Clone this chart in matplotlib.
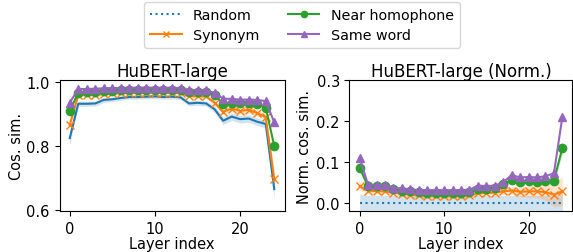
import numpy as np
import matplotlib
matplotlib.use("Agg")
import matplotlib.pyplot as plt

layers = np.arange(25)

# raw cosine similarity (left panel)
rand_raw = [0.825, 0.932, 0.932, 0.933, 0.944, 0.946, 0.950, 0.953, 0.953, 0.954,
            0.955, 0.953, 0.954, 0.952, 0.933, 0.935, 0.933, 0.915, 0.879, 0.892,
            0.884, 0.886, 0.876, 0.869, 0.666]
syn_raw = [0.866, 0.959, 0.960, 0.960, 0.962, 0.964, 0.965, 0.966, 0.966, 0.966,
           0.967, 0.966, 0.966, 0.965, 0.956, 0.955, 0.955, 0.935, 0.907, 0.917,
           0.910, 0.913, 0.903, 0.890, 0.697]
hom_raw = [0.910, 0.966, 0.970, 0.970, 0.972, 0.973, 0.974, 0.975, 0.975, 0.975,
           0.975, 0.975, 0.975, 0.974, 0.970, 0.970, 0.970, 0.960, 0.932, 0.935,
           0.935, 0.935, 0.930, 0.920, 0.800]
same_raw = [0.935, 0.978, 0.978, 0.979, 0.980, 0.981, 0.981, 0.982, 0.982, 0.982,
            0.982, 0.982, 0.982, 0.981, 0.975, 0.975, 0.975, 0.965, 0.948, 0.947,
            0.945, 0.945, 0.944, 0.940, 0.874]
rand_raw_sd = [0.02, 0.008, 0.008, 0.008, 0.008, 0.007, 0.007, 0.007, 0.007, 0.007,
               0.007, 0.007, 0.007, 0.007, 0.008, 0.008, 0.008, 0.010, 0.012, 0.012,
               0.012, 0.012, 0.012, 0.012, 0.030]
syn_raw_sd = [0.015, 0.006, 0.006, 0.006, 0.006, 0.006, 0.006, 0.006, 0.006, 0.006,
              0.006, 0.006, 0.006, 0.006, 0.006, 0.006, 0.006, 0.008, 0.010, 0.010,
              0.010, 0.010, 0.010, 0.010, 0.025]

# normalised cosine similarity (right panel)
rand_norm = [0.0] * 25
syn_norm = [0.040, 0.030, 0.028, 0.028, 0.025, 0.022, 0.020, 0.018, 0.017, 0.017,
            0.016, 0.016, 0.016, 0.018, 0.023, 0.024, 0.025, 0.028, 0.030, 0.027,
            0.028, 0.028, 0.026, 0.020, 0.028]
hom_norm = [0.086, 0.040, 0.040, 0.040, 0.033, 0.030, 0.028, 0.026, 0.025, 0.025,
            0.025, 0.025, 0.025, 0.026, 0.033, 0.034, 0.036, 0.045, 0.056, 0.050,
            0.053, 0.052, 0.053, 0.054, 0.134]
same_norm = [0.110, 0.044, 0.044, 0.043, 0.037, 0.035, 0.033, 0.031, 0.031, 0.031,
             0.031, 0.031, 0.031, 0.032, 0.042, 0.041, 0.042, 0.050, 0.068, 0.062,
             0.063, 0.062, 0.065, 0.072, 0.210]
rand_norm_sd = [0.022, 0.018, 0.018, 0.018, 0.018, 0.018, 0.018, 0.018, 0.018, 0.018,
                0.018, 0.018, 0.018, 0.018, 0.018, 0.018, 0.018, 0.018, 0.018, 0.018,
                0.018, 0.018, 0.018, 0.020, 0.025]
syn_norm_sd = [0.010, 0.006, 0.006, 0.006, 0.006, 0.006, 0.006, 0.006, 0.006, 0.006,
               0.006, 0.006, 0.006, 0.006, 0.006, 0.006, 0.006, 0.008, 0.010, 0.012,
               0.014, 0.016, 0.020, 0.030, 0.035]
hom_norm_sd = [0.010, 0.004, 0.004, 0.004, 0.004, 0.004, 0.004, 0.004, 0.004, 0.004,
               0.004, 0.004, 0.004, 0.004, 0.004, 0.004, 0.004, 0.005, 0.006, 0.006,
               0.006, 0.006, 0.006, 0.008, 0.015]

C_BLUE, C_ORANGE, C_GREEN, C_PURPLE = "#1f77b4", "#ff7f0e", "#2ca02c", "#9467bd"

plt.rcParams["font.family"] = "DejaVu Sans"
plt.rcParams["font.size"] = 10.5
plt.rcParams["xtick.labelsize"] = 10.5
plt.rcParams["ytick.labelsize"] = 10.5

fig = plt.figure(figsize=(5.73, 2.53), dpi=100)
ax1 = fig.add_axes([59.5 / 573, 1 - 212 / 253, 225 / 573, 131 / 253])
ax2 = fig.add_axes([349.5 / 573, 1 - 212 / 253, 223 / 573, 131 / 253])

def band(ax, y, sd, color):
    y = np.array(y)
    sd = np.array(sd)
    ax.fill_between(layers, y - sd, y + sd, color=color, alpha=0.2, lw=0)

# left
band(ax1, rand_raw, rand_raw_sd, C_BLUE)
band(ax1, syn_raw, syn_raw_sd, C_ORANGE)
ax1.plot(layers, rand_raw, color=C_BLUE, lw=1.5)
ax1.plot(layers, syn_raw, color=C_ORANGE, marker="x", ms=6, lw=1.5)
ax1.plot(layers, hom_raw, color=C_GREEN, marker="o", ms=6, lw=1.5)
ax1.plot(layers, same_raw, color=C_PURPLE, marker="^", ms=6, lw=1.5)
ax1.set_ylim(0.598, 1.006)
ax1.set_yticks([0.6, 0.8, 1.0])
ax1.set_xticks([0, 10, 20])
ax1.set_title("HuBERT-large", fontsize=12, pad=3)
ax1.set_xlabel("Layer index", labelpad=0)
ax1.set_ylabel("Cos. sim.", labelpad=2)

# right
band(ax2, rand_norm, rand_norm_sd, C_BLUE)
band(ax2, syn_norm, syn_norm_sd, C_ORANGE)
band(ax2, hom_norm, hom_norm_sd, C_GREEN)
l1, = ax2.plot(layers, rand_norm, color=C_BLUE, ls=":", lw=1.5, label="Random")
l2, = ax2.plot(layers, syn_norm, color=C_ORANGE, marker="x", ms=6, lw=1.5, label="Synonym")
l3, = ax2.plot(layers, hom_norm, color=C_GREEN, marker="o", ms=6, lw=1.5, label="Near homophone")
l4, = ax2.plot(layers, same_norm, color=C_PURPLE, marker="^", ms=6, lw=1.5, label="Same word")
ax2.set_ylim(-0.02, 0.3)
ax2.set_yticks([0.0, 0.1, 0.2, 0.3])
ax2.set_xticks([0, 10, 20])
ax2.set_title("HuBERT-large (Norm.)", fontsize=12, pad=3)
ax2.set_xlabel("Layer index", labelpad=0)
ax2.set_ylabel("Norm. cos. sim.", labelpad=3)

fig.legend(handles=[l1, l2, l3, l4], loc="upper center", ncol=2,
           bbox_to_anchor=(0.527, 1.0), fontsize=10.3, handlelength=2.2,
           markerscale=0.75, columnspacing=2.0, borderaxespad=0.2,
           labelspacing=0.45)

fig.savefig("out.png", dpi=100)
